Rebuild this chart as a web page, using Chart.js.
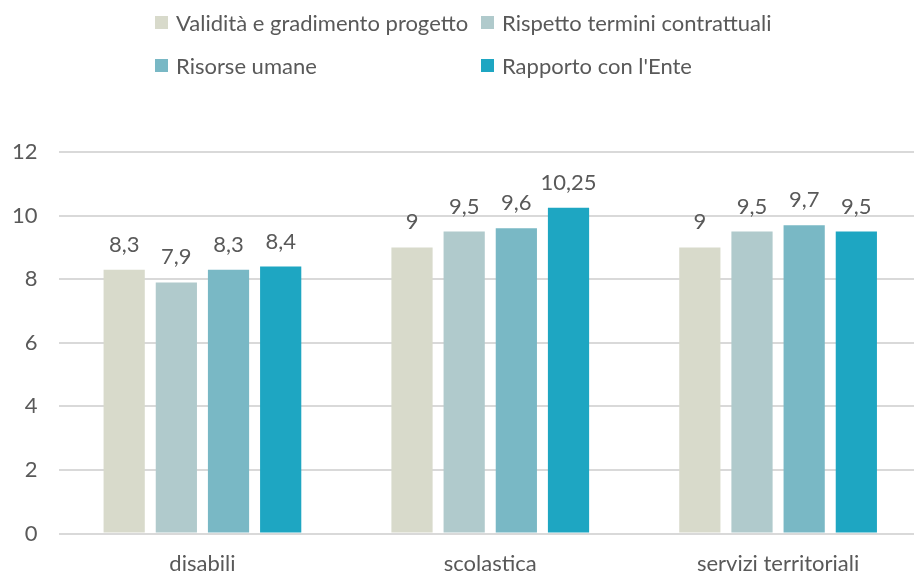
<!DOCTYPE html>
<html>
<head>
<meta charset="utf-8">
<script src="https://cdn.jsdelivr.net/npm/chart.js@4/dist/chart.umd.min.js"></script>
<style>
  html, body { margin: 0; padding: 0; background: #fff; overflow: hidden; }
  #wrap { position: relative; width: 914px; height: 575px; overflow: hidden; }
  #box { position: absolute; left: 0; top: 0; width: 922px; height: 575px; }
  #legend { position: absolute; left: 155px; top: 8px; display: grid;
    grid-template-columns: 326px 320px; row-gap: 15px;
    font-family: Lato, "Open Sans", sans-serif; font-size: 22px; color: #595959; }
  .item { display: flex; align-items: center; height: 28px; white-space: nowrap; }
  .sw { width: 13px; height: 13px; margin-right: 8px; }
</style>
</head>
<body>
<div id="wrap">
  <div id="box"><canvas id="chart"></canvas></div>
  <div id="legend"></div>
</div>
<script>
// ---- data ----
const categories = ['disabili', 'scolastica', 'servizi territoriali'];
const seriesNames = ['Validità e gradimento progetto', 'Rispetto termini contrattuali', 'Risorse umane', "Rapporto con l'Ente"];
const validita = [8.3, 9, 9];
const rispetto = [7.9, 9.5, 9.5];
const risorse = [8.3, 9.6, 9.7];
const rapporto = [8.4, 10.25, 9.5];
const colors = ['#D8DACB', '#B0CACC', '#79B8C5', '#1EA6C2'];

const textColor = '#595959';
const fontFamily = 'Lato, "Open Sans", sans-serif';

// value labels above the bars, italian decimal comma
const valueLabels = {
    id: 'valueLabels',
    afterDatasetsDraw(chart) {
        const ctx = chart.ctx;
        ctx.save();
        ctx.font = '22px ' + fontFamily;
        ctx.fillStyle = textColor;
        ctx.textAlign = 'center';
        ctx.textBaseline = 'bottom';
        chart.data.datasets.forEach((ds, i) => {
            chart.getDatasetMeta(i).data.forEach((bar, j) => {
                const label = String(ds.data[j]).replace('.', ',');
                ctx.fillText(label, bar.x, bar.y - 14);
            });
        });
        ctx.restore();
    }
};

const seriesData = [validita, rispetto, risorse, rapporto];

const chart = new Chart(document.getElementById('chart'), {
    type: 'bar',
    data: {
        labels: categories,
        datasets: seriesNames.map((name, i) => ({
            label: name,
            data: seriesData[i],
            backgroundColor: colors[i],
            categoryPercentage: 0.725,
            barPercentage: 0.79
        }))
    },
    options: {
        responsive: true,
        maintainAspectRatio: false,
        animation: false,
        layout: { padding: { top: 152, left: -9, right: 0, bottom: -11 } },
        plugins: {
            legend: { display: false },
            tooltip: { enabled: false }
        },
        scales: {
            x: {
                grid: { display: false },
                border: { display: false },
                ticks: { color: textColor, font: { family: fontFamily, size: 22 }, padding: 9 }
            },
            y: {
                min: 0,
                max: 12,
                ticks: { stepSize: 2, color: textColor, font: { family: fontFamily, size: 22 }, padding: 21 },
                grid: { color: '#D9D9D9', lineWidth: 2, drawTicks: false },
                border: { display: false }
            }
        }
    },
    plugins: [valueLabels]
});

// legend laid out in two aligned columns
const legendEl = document.getElementById('legend');
seriesNames.forEach((name, i) => {
    const item = document.createElement('div');
    item.className = 'item';
    item.innerHTML = '<span class="sw" style="background:' + colors[i] + '"></span>' + name;
    legendEl.appendChild(item);
});
</script>
</body>
</html>
